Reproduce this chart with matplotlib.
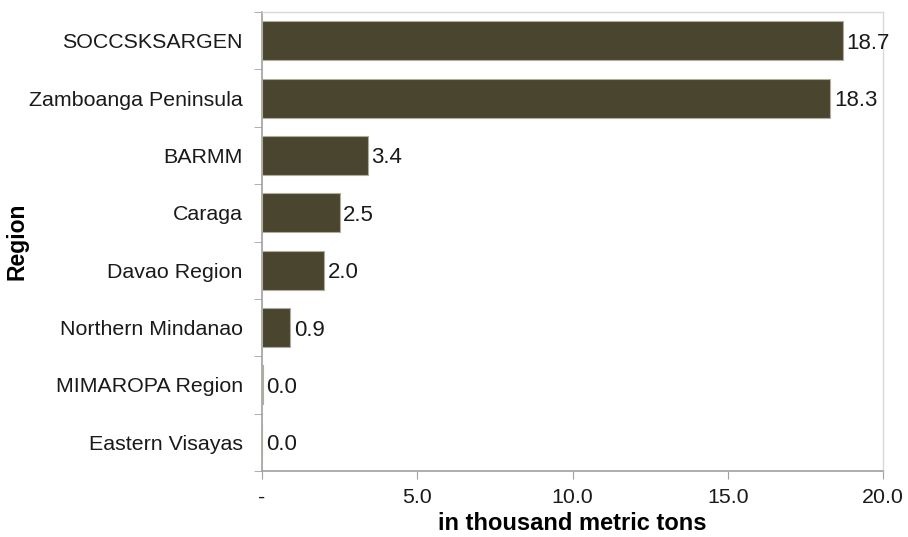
import matplotlib
matplotlib.use("Agg")
import matplotlib.pyplot as plt

regions = ["SOCCSKSARGEN", "Zamboanga Peninsula", "BARMM", "Caraga",
           "Davao Region", "Northern Mindanao", "MIMAROPA Region", "Eastern Visayas"]
values = [18.7, 18.3, 3.4, 2.5, 2.0, 0.9, 0.02, 0.0]
xticks = [0, 5, 10, 15, 20]
xtick_labels = ["-", "5.0", "10.0", "15.0", "20.0"]

plt.rcParams['font.family'] = ['Liberation Sans', 'DejaVu Sans']

fig = plt.figure(figsize=(9.08, 5.37), dpi=100)
ax = fig.add_axes([262/908, 1-471/537, (883-262)/908, (471-12)/537])

y = list(range(len(regions)))
ax.barh(y, values, height=0.68, color='#4a452e', edgecolor='#b0ad9e', linewidth=0.8, zorder=3)
ax.set_ylim(len(regions)-0.5, -0.5)
ax.set_xlim(0, 20)

for yi, v in zip(y, values):
    ax.text(v + 0.12, yi, f"{v:.1f}", va='center_baseline', ha='left', fontsize=16, color='#1a1a1a')

ax.set_yticks(y)
ax.set_yticklabels(regions, fontsize=15.4, color='#1a1a1a')
ax.set_yticks([i + 0.5 for i in range(-1, len(regions))], minor=True)
ax.tick_params(axis='y', which='major', length=0, pad=13.8)
ax.tick_params(axis='y', which='minor', length=6, color='#a0a0a0', direction='out')
ax.set_xticks(xticks)
ax.set_xticklabels(xtick_labels, fontsize=15.4, color='#1a1a1a')
ax.tick_params(axis='x', length=6, color='#a0a0a0', direction='out', pad=6)

for s in ['left', 'bottom']:
    ax.spines[s].set_color('#a0a0a0')
    ax.spines[s].set_linewidth(1.2)
for s in ['top', 'right']:
    ax.spines[s].set_color('#d9d9d9')
    ax.spines[s].set_linewidth(1.0)

ax.set_xlabel("in thousand metric tons", fontsize=17, fontweight='bold', labelpad=4)
fig.text(17.5/908, 1-241/537, "Region", rotation=90, ha='center', va='center',
         fontsize=16.5, fontweight='bold')

fig.savefig("out.png", dpi=100)
